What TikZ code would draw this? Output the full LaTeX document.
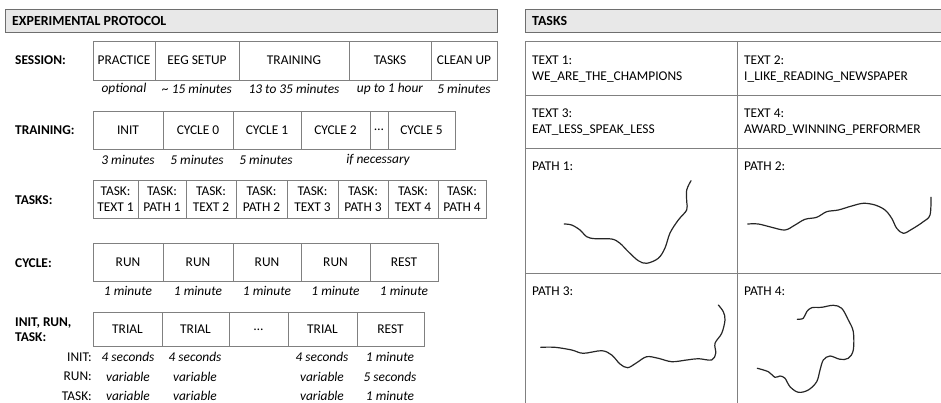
\documentclass[tikz,border=0pt]{standalone}
\usepackage{fontspec}
\setmainfont{Carlito}
\newcommand{\ellip}{\ldots}
\newcommand{\basefont}{\fontsize{13.4}{15.5}\selectfont}
\begin{document}
\begin{tikzpicture}[x=1pt,y=-1pt,
  every node/.style={inner sep=0pt, font=\basefont},
  cell/.style={draw=boxline, line width=0.9pt, align=center},
  rowlabel/.style={anchor=west, font=\basefont\bfseries, align=left},
  dur/.style={font=\basefont\itshape},
  sublabel/.style={anchor=east},
  header/.style={draw=headline, fill=headfill, line width=0.9pt, anchor=north west},
  headtext/.style={anchor=west, font=\fontsize{13.9}{15.5}\selectfont\bfseries},
  celltext/.style={anchor=north west, align=left, font=\fontsize{13.4}{16}\selectfont},
  grid/.style={draw=boxline, line width=0.9pt},
  trace/.style={line width=1.2pt, draw=black!85, line cap=round, line join=round}
]
\definecolor{boxline}{RGB}{128,128,128}
\definecolor{headline}{RGB}{110,110,110}
\definecolor{headfill}{RGB}{232,232,232}
\useasboundingbox (0,0) rectangle (941,403);

% ---------------- left panel: protocol ----------------
\node[header, minimum width=492pt, minimum height=23pt] (hleft) at (5,9) {};
\node[headtext] (hlefttxt) at (12,20.5) {EXPERIMENTAL PROTOCOL};

% session row
\node[rowlabel] (lsession) at (15,60.5) {SESSION:};
\foreach \a/\b/\t/\d [count=\i] in {93/155/PRACTICE/optional,
    155/239/EEG SETUP/\textasciitilde\ 15 minutes,
    239/349/TRAINING/13 to 35 minutes,
    349/431/TASKS/up to 1 hour,
    431/497/CLEAN UP/5 minutes}{
  \node[cell, minimum width={\b-\a}, minimum height=39pt] (ses\i) at ({(\a+\b)/2},60.5) {\t};
  \node[dur] (sesd\i) at ({(\a+\b)/2},89) {\d};
}

% training row
\node[rowlabel] (ltraining) at (15,130) {TRAINING:};
\foreach \a/\b/\t [count=\i] in {93/163/INIT, 163/233/CYCLE 0, 233/301/CYCLE 1,
    301/370/CYCLE 2, 370/388/\ellip, 388/455/CYCLE 5}{
  \node[cell, minimum width={\b-\a}, minimum height=38pt] (trn\i) at ({(\a+\b)/2},130) {\t};
}
\node[dur] (trnd1) at (128,160) {3 minutes};
\node[dur] (trnd2) at (197,160) {5 minutes};
\node[dur] (trnd3) at (266,160) {5 minutes};
\node[dur] (trnd4) at (378,160) {if necessary};

% tasks row
\node[rowlabel] (ltasks) at (15,200) {TASKS:};
\foreach \a/\b/\t [count=\i] in {93/138/TEXT 1, 138/186/PATH 1, 186/236/TEXT 2,
    236/287/PATH 2, 287/338/TEXT 3, 338/388/PATH 3, 388/438/TEXT 4, 438/486/PATH 4}{
  \node[cell, minimum width={\b-\a}, minimum height=38pt,
        font=\fontsize{13.4}{16}\selectfont] (tsk\i) at ({(\a+\b)/2},199.5) {TASK:\\\t};
}

% cycle row
\node[rowlabel] (lcycle) at (15,263) {CYCLE:};
\foreach \a/\b/\t [count=\i] in {93/163/RUN, 163/233/RUN, 233/301/RUN, 301/370/RUN, 370/438/REST}{
  \node[cell, minimum width={\b-\a}, minimum height=38pt] (cyc\i) at ({(\a+\b)/2},262.5) {\t};
  \node[dur] (cycd\i) at ({(\a+\b)/2},291) {1 minute};
}

% trial row
\node[rowlabel] (ltrial) at (15,329.5) {INIT, RUN,\\TASK:};
\foreach \a/\b/\t [count=\i] in {93/162/TRIAL, 162/229/TRIAL, 229/288/\ellip, 288/357/TRIAL, 357/424/REST}{
  \node[cell, minimum width={\b-\a}, minimum height=34pt] (tri\i) at ({(\a+\b)/2},329.5) {\t};
}
\node[sublabel] (linit) at (92,357) {INIT:};
\node[sublabel] (lrun)  at (92,376.5) {RUN:};
\node[sublabel] (ltask) at (92,396) {TASK:};
\foreach \x [count=\i] in {128,195,322}{
  \node[dur] (ini\i) at (\x,357) {4 seconds};
  \node[dur] (run\i) at (\x,376.5) {variable};
  \node[dur] (tas\i) at (\x,396) {variable};
}
\node[dur] (ini4) at (390,357) {1 minute};
\node[dur] (run4) at (390,376.5) {5 seconds};
\node[dur] (tas4) at (390,396) {1 minute};

% ---------------- right panel: tasks ----------------
\node[header, minimum width=425pt, minimum height=23pt] (hright) at (525,9) {};
\node[headtext] (hrighttxt) at (532,20.5) {TASKS};

\path[grid] (525,412) -- (525,41) -- (952,41);
\path[grid] (737,41) -- (737,412);
\path[grid] (525,95) -- (952,95);
\path[grid] (525,148) -- (952,148);
\path[grid] (525,273) -- (952,273);

\node[celltext] (t1) at (532,55.5) {TEXT 1:\\WE\_ARE\_THE\_CHAMPIONS};
\node[celltext] (t2) at (744,55.5) {TEXT 2:\\I\_LIKE\_READING\_NEWSPAPER};
\node[celltext] (t3) at (532,108.5) {TEXT 3:\\EAT\_LESS\_SPEAK\_LESS};
\node[celltext] (t4) at (744,108.5) {TEXT 4:\\AWARD\_WINNING\_PERFORMER};
\node[celltext] (p1) at (532,161.5) {PATH 1:};
\node[celltext] (p2) at (744,161.5) {PATH 2:};
\node[celltext] (p3) at (532,286.5) {PATH 3:};
\node[celltext] (p4) at (744,286.5) {PATH 4:};

% hand-drawn paths
\draw[trace] plot[smooth, tension=0.55] coordinates {(564.3,224) (571.7,225) (580,230) (586.7,236.7)
  (595,238.7) (611.7,239) (620,243.3) (628.3,251.7) (638.3,260.7) (646.7,263.3) (658.3,258.3)
  (665,248) (670,233) (678.3,220) (686.7,210) (686.7,201.7) (686.7,190) (691,180.7)};
\draw[trace] plot[smooth, tension=0.55] coordinates {(747.7,224) (758.3,224) (771.7,227.3) (785,230)
  (795,225) (805,219.3) (816.7,217.3) (826.7,211.7) (838.3,210) (851.7,206) (863.3,203.3) (875,205)
  (885,210) (891.7,218.3) (896.7,228.3) (903.3,233.3) (911.7,229.3) (923.3,221.7) (930,215) (931,197.3)};
\draw[trace] plot[smooth, tension=0.55] coordinates {(540.7,347.3) (555,347.3) (571.7,350) (583.3,353.3)
  (601.7,350.7) (611.7,355) (620,364) (627.7,367.7) (636.7,362.7) (646.7,356.7) (658.3,358.3)
  (671.7,361.7) (686.7,360) (698.3,358.7) (711.7,360) (715.7,353.3) (715,343.3) (721.7,333.3)
  (725,320) (723.3,311.7) (718.3,305)};
\draw[trace] plot[smooth, tension=0.55] coordinates {(797.3,319.3) (803.3,318.3) (806.7,311.7) (811.7,307.7)
  (821.7,307.3) (833.3,305.3) (841.7,308.3) (848.3,320) (853.3,331.7) (853.3,350) (848.3,358.3)
  (840,359.3) (830,356) (823.3,360) (820,370) (816.7,381.7) (808.3,390) (798.3,392.3) (790,386.7)
  (785,378.3) (780,376) (775,377.3) (768.3,371.7) (757.3,368.3)};
\end{tikzpicture}
\end{document}
